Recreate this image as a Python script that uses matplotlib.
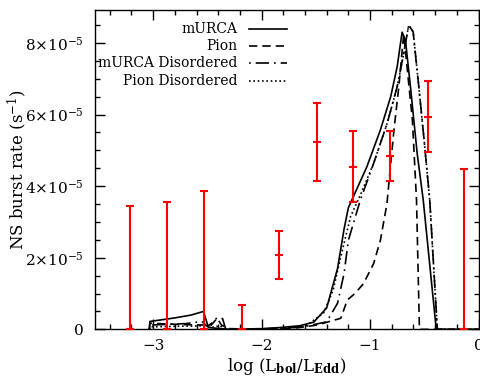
import numpy as np
import matplotlib
matplotlib.use('Agg')
import matplotlib.pyplot as plt
from matplotlib.ticker import MultipleLocator, FuncFormatter

plt.rcParams['font.family'] = ['DejaVu Serif']
plt.rcParams['mathtext.fontset'] = 'dejavuserif'

# burst rate curves, x = log(Lbol/LEdd), y in units of 1e-5 s^-1
murca_x = [-3.035, -3.03, -2.8, -2.65, -2.536, -2.49, -2.3, -2.0, -1.83, -1.65, -1.52,
           -1.40, -1.30, -1.24, -1.20, -1.17, -1.03, -0.905, -0.81, -0.75, -0.705,
           -0.674, -0.628, -0.566, -0.51, -0.39, -0.2, 0.0]
murca_y = [0.0, 0.22, 0.32, 0.4, 0.5, 0.05, 0.0, 0.02, 0.05, 0.1, 0.2,
           0.6, 1.7, 2.8, 3.4, 3.6, 4.54, 5.57, 6.5, 7.34, 8.3,
           8.08, 6.78, 4.92, 3.61, 0.0, 0.0, 0.0]

pion_x = [-3.035, -3.03, -2.7, -2.5, -2.47, -2.41, -2.37, -2.3, -2.0, -1.7, -1.49, -1.27,
          -1.21, -1.14, -1.06, -0.967, -0.905, -0.845, -0.78, -0.735, -0.69,
          -0.61, -0.572, -0.56, -0.545, -0.3, 0.0]
pion_y = [0.0, 0.17, 0.13, 0.12, 0.1, 0.31, 0.12, 0.02, 0.0, 0.03, 0.12, 0.31,
          0.82, 1.0, 1.28, 1.84, 2.49, 3.5, 5.57, 6.78, 8.25,
          5.85, 3.61, 2.0, 0.0, 0.0, 0.0]

murca_dis_x = [-3.035, -3.03, -2.7, -2.55, -2.5, -2.45, -2.41, -2.36, -2.33, -2.0, -1.8,
               -1.6, -1.40, -1.30, -1.24, -1.20, -1.09, -0.967, -0.843, -0.75, -0.69,
               -0.644, -0.603, -0.551, -0.505, -0.45, -0.38, -0.2, 0.0]
murca_dis_y = [0.0, 0.12, 0.16, 0.22, 0.08, 0.2, 0.33, 0.3, 0.0, 0.01, 0.03,
               0.08, 0.21, 0.73, 1.56, 2.49, 3.61, 4.64, 5.75, 6.78, 7.71,
               8.5, 8.31, 6.78, 5.38, 3.61, 0.0, 0.0, 0.0]

pion_dis_x = [-3.035, -3.03, -2.7, -2.5, -2.45, -2.38, -2.34, -2.0, -1.8, -1.6, -1.43,
              -1.34, -1.27, -1.18, -1.09, -0.967, -0.843, -0.75, -0.69,
              -0.644, -0.603, -0.551, -0.505, -0.45, -0.38, -0.2, 0.0]
pion_dis_y = [0.0, 0.07, 0.09, 0.1, 0.06, 0.1, 0.0, 0.01, 0.03, 0.08, 0.45,
              1.1, 2.03, 3.15, 3.75, 4.64, 5.75, 6.78, 7.71,
              8.5, 8.31, 6.78, 5.38, 3.61, 0.0, 0.0, 0.0]

# observed rates with errors (1e-5 s^-1)
obs_x = [-3.21, -2.87, -2.53, -2.18, -1.84, -1.49, -1.16, -0.82, -0.47, -0.13]
obs_y = [0.0, 0.0, 0.0, 0.0, 2.07, 5.24, 4.54, 4.85, 5.94, 0.0]
obs_lo = [0.0, 0.0, 0.0, 0.0, 1.40, 4.14, 3.56, 4.14, 4.96, 0.0]
obs_hi = [3.45, 3.56, 3.86, 0.68, 2.75, 6.33, 5.54, 5.54, 6.94, 4.47]

series = [
    ('mURCA', murca_x, murca_y, '-'),
    ('Pion', pion_x, pion_y, (0, (5, 3))),
    ('mURCA Disordered', murca_dis_x, murca_dis_y, (0, (1, 3, 8, 3))),
    ('Pion Disordered', pion_dis_x, pion_dis_y, (0, (1, 1.6))),
]

fig = plt.figure(figsize=(4.8, 3.79), dpi=100)
ax = fig.add_axes([0.197, 0.131, 0.8, 0.8425])

scale = 1e-5
for name, xs, ys, ls in series:
    ax.plot(xs, np.array(ys) * scale, color='black', lw=1.2, linestyle=ls, clip_on=True)

oy = np.array(obs_y) * scale
yerr = [oy - np.array(obs_lo) * scale, np.array(obs_hi) * scale - oy]
ax.errorbar(obs_x, oy, yerr=yerr, fmt='none', ecolor='red', elinewidth=1.5,
            capsize=3, capthick=1.5, clip_on=False, zorder=3)
ax.plot(obs_x, oy, linestyle='none', marker='_', color='red', markersize=6,
        markeredgewidth=1.5, clip_on=False, zorder=3)

# legend drawn by hand: labels right-aligned, line samples after them
rows = [0.941, 0.888, 0.833, 0.777]
for (name, xs, ys, ls), ry in zip(series, rows):
    ax.text(0.371, ry, name, transform=ax.transAxes, ha='right', va='center', fontsize=10)
    ax.plot([0.401, 0.501], [ry, ry], transform=ax.transAxes, color='black',
            lw=1.2, linestyle=ls)

ax.set_xlim(-3.54, 0.0)
ax.set_ylim(0, 8.92e-5)
ax.xaxis.set_major_locator(MultipleLocator(1))
ax.xaxis.set_minor_locator(MultipleLocator(0.2))
ax.yaxis.set_major_locator(MultipleLocator(2e-5))
ax.yaxis.set_minor_locator(MultipleLocator(0.5e-5))


def xfmt(v, pos):
    return '0' if abs(v) < 1e-9 else '\u2212%d' % abs(round(v))


def yfmt(v, pos):
    m = round(v / 1e-5)
    if m == 0:
        return '0'
    return r'$%d{\times}10^{-5}$' % m


ax.xaxis.set_major_formatter(FuncFormatter(xfmt))
ax.yaxis.set_major_formatter(FuncFormatter(yfmt))
ax.tick_params(which='both', direction='in', top=True, right=True, labelsize=11, width=1)
ax.tick_params(which='major', length=7)
ax.tick_params(axis='x', which='major', pad=7)
ax.tick_params(axis='y', which='major', pad=8)
ax.tick_params(which='minor', length=3.5)
for s in ax.spines.values():
    s.set_linewidth(1)

ax.set_xlabel(r'log (L$_{\mathbf{bol}}$/L$_{\mathbf{Edd}}$)', fontsize=12, labelpad=2)
ax.set_ylabel(r'NS burst rate (s$^{-1}$)', fontsize=12, labelpad=-3)

fig.savefig('out.png', dpi=100)
